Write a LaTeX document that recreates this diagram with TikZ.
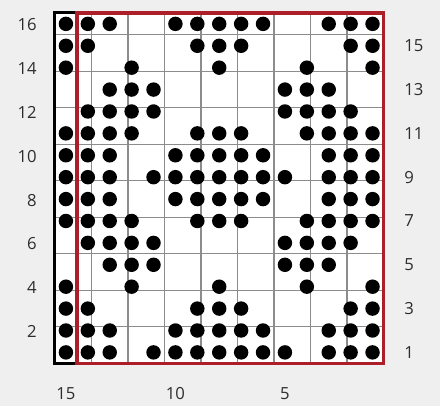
\documentclass[tikz,border=0pt]{standalone}
\usepackage{fontspec}
\setmainfont{Open Sans}
\definecolor{chartbg}{RGB}{239,239,239}
\definecolor{repeatred}{RGB}{172,30,40}
\definecolor{labgray}{RGB}{45,45,45}

\begin{document}
\begin{tikzpicture}[
  x=6mm, y=6mm, font=\fontsize{13}{15}\selectfont,
  gridline/.style={draw=black!45, line width=1pt},
  stitch/.style={fill=black},
  outerframe/.style={draw=black, line width=2.3pt},
  repeatbox/.style={draw=repeatred, line width=2.6pt},
  rowlab/.style={text=labgray, inner sep=0pt}]
% background and page margins
\fill[chartbg] (-2.51,-1.96) rectangle (17.58,16.59);
\useasboundingbox (-2.51,-1.96) rectangle (17.58,16.59);
\coordinate (sw) at (0,0);
\coordinate (ne) at (15,16);
\coordinate (rsw) at (1,0);
\fill[white] (sw) rectangle (ne);
\draw[gridline] (sw) grid (ne);
% stitches, columns counted from the left edge
\foreach \r/\cols in {
  16/{0,1,2,5,6,7,8,9,12,13,14},
  15/{0,1,6,7,8,13,14},
  14/{0,3,7,11,14},
  13/{2,3,4,10,11,12},
  12/{1,2,3,4,10,11,12,13},
  11/{0,1,2,3,6,7,8,11,12,13,14},
  10/{0,1,2,5,6,7,8,9,12,13,14},
  9/{0,1,2,4,5,6,7,8,9,10,12,13,14},
  8/{0,1,2,5,6,7,8,9,12,13,14},
  7/{0,1,2,3,6,7,8,11,12,13,14},
  6/{1,2,3,4,10,11,12,13},
  5/{2,3,4,10,11,12},
  4/{0,3,7,11,14},
  3/{0,1,6,7,8,13,14},
  2/{0,1,2,5,6,7,8,9,12,13,14},
  1/{0,1,2,4,5,6,7,8,9,10,12,13,14}}
  \foreach \c in \cols
    \fill[stitch] (\c+0.5,\r-0.5) circle (0.33);
% frames
\draw[outerframe] (sw) rectangle (ne);
\draw[repeatbox] (rsw) rectangle (ne);
% row numbers
\foreach \r in {2,4,...,16}
  \node[rowlab, anchor=east] (row\r) at (-0.82,\r-0.55) {\r};
\foreach \r in {1,3,...,15}
  \node[rowlab, anchor=west] (row\r) at (15.94,\r-0.5) {\r};
% stitch numbers
\foreach \n/\x in {15/0.5, 10/5.5, 5/10.5}
  \node[rowlab] (st\n) at (\x,-1.36) {\n};
\end{tikzpicture}
\end{document}
